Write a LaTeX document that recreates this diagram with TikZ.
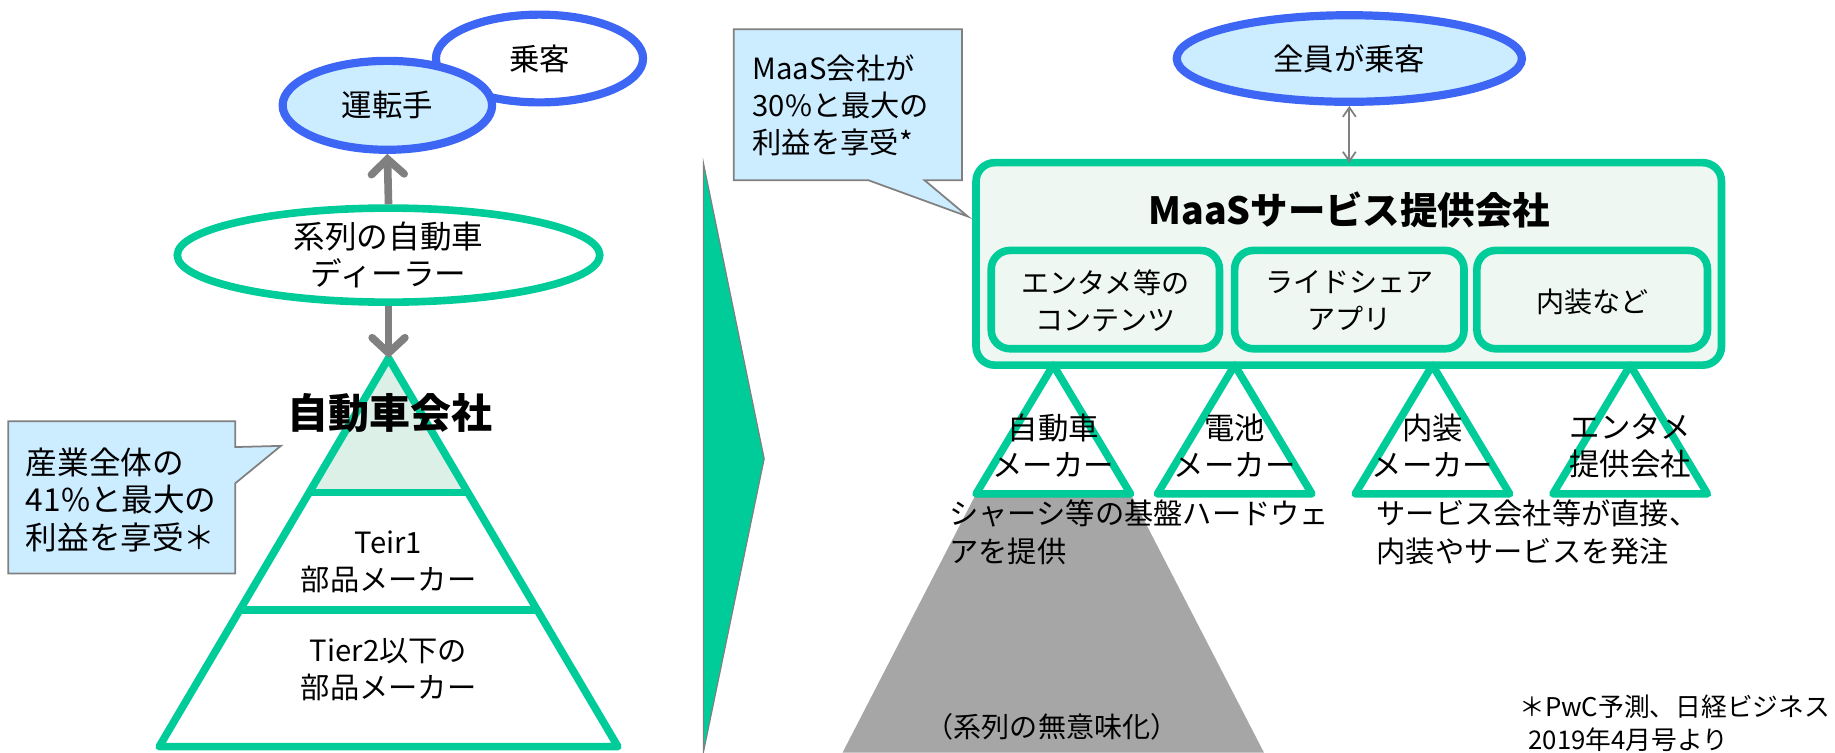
\documentclass[tikz,border=0pt]{standalone}
\usepackage{fontspec}
\setmainfont{Noto Sans CJK JP}
\usetikzlibrary{shapes.geometric,arrows.meta,calc}
\definecolor{mgreen}{HTML}{00CC99}
\definecolor{mblue}{HTML}{3D66F5}
\definecolor{lblue}{HTML}{CCECFF}
\definecolor{lgreen}{HTML}{DDF0E7}
\definecolor{boxfill}{HTML}{EEF7F2}
\definecolor{agray}{HTML}{808080}
\definecolor{tgray}{HTML}{A6A6A6}
\tikzset{
  fs/.style={font=\fontsize{#1}{32}\selectfont},
  blueell/.style={ellipse, draw=mblue, line width=7pt, inner sep=0pt, fs=26},
  greenell/.style={ellipse, draw=mgreen, fill=white, line width=6.5pt, inner sep=0pt, align=center, fs=27},
  garrow/.style={draw=agray, line width=6.5pt, -{Straight Barb[length=13pt,width=28pt,line cap=round]}},
  thinarrow/.style={draw=agray, line width=1.5pt, {Straight Barb[length=8pt,width=11pt]}-{Straight Barb[length=8pt,width=11pt]}},
  gline/.style={draw=mgreen, line width=6.5pt, line join=round},
  callout/.style={fill=lblue, draw=agray, line width=1.5pt},
  txt/.style={inner sep=0pt, align=center, fs=#1},
  ltxt/.style={inner sep=0pt, align=left, fs=#1},
  mbox/.style={draw=mgreen, fill=boxfill, line width=6.5pt, rounded corners=16pt},
  tri/.style={draw=mgreen, fill=white, line width=6.5pt, line join=round},
}
\begin{document}
\begin{tikzpicture}[x=1pt,y=1pt]
\useasboundingbox (0,0) rectangle (1568,-643);
% ---------------- left side ----------------
\node[blueell, fill=white, minimum width=177pt, minimum height=75pt] (pax) at (461,-50) {乗客};
\node[blueell, fill=lblue, minimum width=179pt, minimum height=76pt] (drv) at (331,-90) {運転手};
\node[greenell, minimum width=361pt, minimum height=74pt] (dealer) at (332,-218) {系列の自動車\\ディーラー};
% pyramid
\coordinate (apex) at (332,-306);
\coordinate (bl) at (136,-638);
\coordinate (br) at (528,-638);
\fill[lgreen] (apex) -- ($(apex)!0.346!(bl)$) -- ($(apex)!0.346!(br)$) -- cycle;
\draw[gline] (apex) -- (br) -- (bl) -- cycle;
\draw[gline] ($(apex)!0.346!(bl)$) -- ($(apex)!0.346!(br)$);
\draw[gline] ($(apex)!0.648!(bl)$) -- ($(apex)!0.648!(br)$);
\draw[garrow] (dealer.north) -- (drv.south);
\draw[garrow] (dealer.south) -- (apex);
\node[txt=35, font=\fontsize{35}{40}\selectfont\bfseries] (maker) at (333,-353) {自動車会社};
\node[txt=25] (tier1) at (332,-480) {Teir1\\部品メーカー};
\node[txt=25] (tier2) at (332,-572) {Tier2以下の\\部品メーカー};
% left callout
\draw[callout] (7,-360) -- (201,-360) -- (201,-382) -- (240,-381) -- (201,-413) -- (201,-490) -- (7,-490) -- cycle;
\node[ltxt=27, anchor=west] (note1) at (22,-427) {産業全体の\\41\%と最大の\\利益を享受＊};
% ---------------- chevron ----------------
\fill[mgreen, draw=agray, line width=1pt] (601,-139) -- (653,-392) -- (601,-643) -- cycle;
% ---------------- right side ----------------
\draw[callout] (627,-25) -- (822,-25) -- (822,-154) -- (790,-154) -- (827,-185) -- (742,-154) -- (627,-154) -- cycle;
\node[ltxt=25, anchor=west] (note2) at (643,-90) {MaaS会社が\\30\%と最大の\\利益を享受*};
\node[blueell, fill=lblue, minimum width=295pt, minimum height=74pt] (all) at (1153,-50) {全員が乗客};
\draw[mbox] (834,-139) rectangle (1471,-312);
\coordinate (maas) at (1153,-139);
\node[txt=32, font=\fontsize{32}{36}\selectfont\bfseries] (maastitle) at (1153,-179) {MaaSサービス提供会社};
\draw[thinarrow] (all.south) -- (maas);
\draw[mbox] (847,-214) rectangle (1042,-298);
\draw[mbox] (1055,-214) rectangle (1251,-298);
\draw[mbox] (1262,-214) rectangle (1459,-298);
\node[txt=24] (b1) at (944.5,-257) {エンタメ等の\\コンテンツ};
\node[txt=24] (b2) at (1153,-257) {ライドシェア\\アプリ};
\node[txt=24] (b3) at (1360.5,-258) {内装など};
% gray trapezoid
\fill[tgray] (834,-422) -- (966,-422) -- (1080,-643) -- (720,-643) -- cycle;
% small triangles
\draw[tri] (900,-312) -- (966,-422) -- (834,-422) -- cycle;
\draw[tri] (1055,-312) -- (1121,-422) -- (989,-422) -- cycle;
\draw[tri] (1224,-312) -- (1290,-422) -- (1158,-422) -- cycle;
\draw[tri] (1393,-312) -- (1459,-422) -- (1327,-422) -- cycle;
\node[txt=26] (t1) at (900,-381) {自動車\\メーカー};
\node[txt=26] (t2) at (1055,-381) {電池\\メーカー};
\node[txt=26] (t3) at (1224,-381) {内装\\メーカー};
\node[txt=26] (t4) at (1393,-381) {エンタメ\\提供会社};
\node[ltxt=25, anchor=west] (hw) at (811,-455) {シャーシ等の基盤ハードウェ\\アを提供};
\node[ltxt=25, anchor=west] (svc) at (1176,-455) {サービス会社等が直接、\\内装やサービスを発注};
\node[txt=24] (keiretsu) at (899,-621) {（系列の無意味化）};
\node[ltxt=22, anchor=west, font=\fontsize{22}{28}\selectfont] (src) at (1298,-618) {＊PwC予測、日経ビジネス\\\hspace{8pt}2019年4月号より};
\end{tikzpicture}
\end{document}
